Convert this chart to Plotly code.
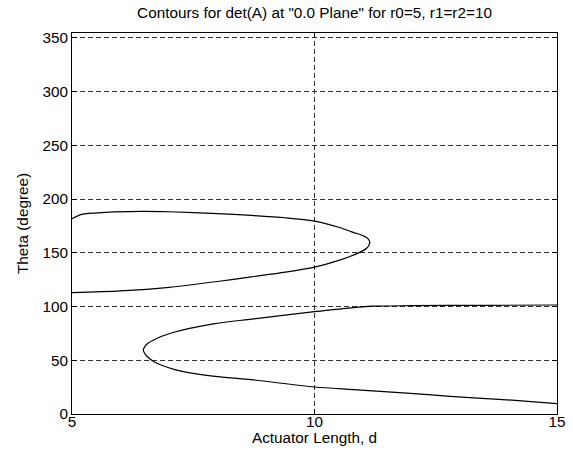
import plotly.graph_objects as go

# Upper contour (open to the left edge d=5)
upper_d = [5.0, 6.0, 7.0, 8.0, 8.7, 9.4, 10.0, 10.5, 10.9, 11.08, 11.127, 11.14,
           11.105, 11.02, 10.8, 10.5, 10.0, 9.4, 8.7, 8.0, 7.0, 6.4, 5.7, 5.2, 5.0]
upper_theta = [112.9, 114.6, 117.9, 123.3, 127.6, 132.0, 136.7, 143.0, 149.7, 154.5, 157.5, 160.2,
               163.0, 165.5, 169.0, 173.8, 179.5, 182.6, 184.8, 186.5, 188.2, 188.5, 187.6, 185.7, 181.7]

# Lower contour (open to the right edge d=15)
lower_d = [15.0, 13.5, 12.0, 11.2, 10.7, 10.0, 8.7, 7.95, 7.40, 7.12, 6.85, 6.56, 6.497, 6.47,
           6.497, 6.55, 6.70, 6.85, 7.12, 7.40, 7.95, 8.7, 10.0, 10.8, 11.9, 12.8, 13.8, 14.4, 15.0]
lower_theta = [101.4, 101.1, 100.8, 100.3, 98.6, 95.2, 88.3, 84.1, 79.4, 76.3, 72.3, 65.5, 62.5, 59.5,
               56.5, 53.5, 48.4, 45.3, 41.3, 38.5, 35.1, 31.9, 25.1, 22.7, 19.5, 16.4, 13.7, 11.8, 9.7]

x_ticks = [5, 10, 15]
y_ticks = [0, 50, 100, 150, 200, 250, 300, 350]

FONT = "Liberation Sans, Arial, Helvetica, sans-serif"
FS = 15.3

fig = go.Figure()
for xs, ys in [(upper_d, upper_theta), (lower_d, lower_theta)]:
    fig.add_trace(go.Scatter(x=xs, y=ys, mode="lines",
                             line=dict(color="black", width=1.2, shape="spline", smoothing=0.8),
                             showlegend=False, hoverinfo="skip"))

axis_common = dict(
    showline=True, linecolor="black", linewidth=1, mirror="ticks",
    ticks="inside", ticklen=5, tickcolor="black", automargin=False,
    showgrid=True, gridcolor="#333333", griddash="5px,3px", gridwidth=1,
    zeroline=False, tickfont=dict(family=FONT, size=FS, color="black"),
)

fig.update_layout(
    width=573, height=459,
    margin=dict(l=72, r=16, t=33, b=45),
    paper_bgcolor="white", plot_bgcolor="white",
    font=dict(family=FONT, size=FS, color="black"),
    title=dict(text='Contours for det(A) at "0.0 Plane" for r0=5, r1=r2=10',
               x=(72 + 557) / 2 / 573, xanchor="center",
               y=1 - 13 / 459, yanchor="middle", yref="container",
               font=dict(family=FONT, size=FS, color="black")),
    xaxis=dict(range=[5, 15], tickvals=x_ticks, ticktext=[str(v) for v in x_ticks],
               ticklabelstandoff=-6, **axis_common),
    yaxis=dict(range=[0, 354.5], tickvals=y_ticks, ticktext=[str(v) for v in y_ticks],
               title=dict(text="Theta (degree)", standoff=10,
                          font=dict(family=FONT, size=FS)),
               **axis_common),
    annotations=[dict(text="Actuator Length, d", xref="paper", yref="paper",
                      x=0.5, y=(414 - 437) / 381, xanchor="center", yanchor="middle",
                      showarrow=False, font=dict(family=FONT, size=FS, color="black"))],
)

fig.write_html("out.html")
